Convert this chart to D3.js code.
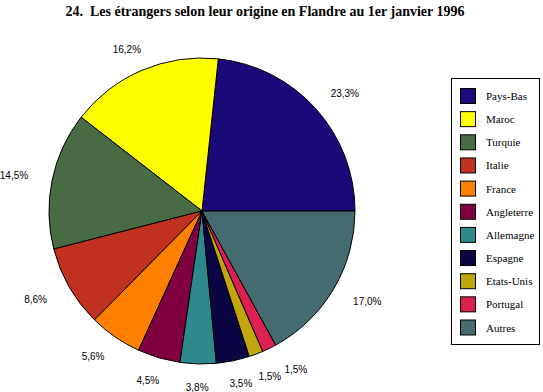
<!DOCTYPE html>
<html><head><meta charset="utf-8">
<script src="https://cdn.jsdelivr.net/npm/d3@7"></script>
<style>body{margin:0;background:#fff;}svg{display:block;}</style>
</head><body>
<script>
const title = "24.  Les étrangers selon leur origine en Flandre au 1er janvier 1996";
const categories = ["Pays-Bas","Maroc","Turquie","Italie","France","Angleterre","Allemagne","Espagne","Etats-Unis","Portugal","Autres"];
const values = [23.3,16.2,14.5,8.6,5.6,4.5,3.8,3.5,1.5,1.5,17.0];
const labels = ["23,3%","16,2%","14,5%","8,6%","5,6%","4,5%","3,8%","3,5%","1,5%","1,5%","17,0%"];
const colors = ["#1a0a7a","#ffff00","#486b44","#c0311f","#ff8000","#800040","#2e8a8a","#0b0544","#c0a80c","#dc2050","#436b70"];

const W=543,H=392;
const svg=d3.select("body").append("svg").attr("width",W).attr("height",H);
svg.append("text").attr("x",265).attr("y",16).attr("text-anchor","middle")
  .style("white-space","pre")
  .attr("font-family","'Liberation Serif','Times New Roman',serif").attr("font-weight","bold")
  .attr("font-size",14).text(title);

const cx=202, cy=211, r=153;
const pie=d3.pie().sort(null).value(d=>d).startAngle(Math.PI/2).endAngle(Math.PI/2-2*Math.PI);
const arcs=pie(values);
const arc=d3.arc().innerRadius(0).outerRadius(r);
const g=svg.append("g").attr("transform",`translate(${cx},${cy})`);
g.selectAll("path").data(arcs).enter().append("path")
  .attr("d",arc).attr("fill",(d,i)=>colors[i]).attr("stroke","#000").attr("stroke-width",1);

// label positions on an ellipse around the pie, with a simple overlap push
const pos=arcs.map(d=>{const a=(d.startAngle+d.endAngle)/2;return {x:Math.sin(a)*192,y:-Math.cos(a)*176+4,s:Math.sin(a)>=0?1:-1};});
const lw=24, lh=10;
for(let i=1;i<pos.length;i++){
  const p=pos[i], q=pos[i-1];
  const ox=lw+2-Math.abs(p.x-q.x), oy=lh-Math.abs(p.y-q.y);
  if(ox>0&&oy>0){ p.x+=p.s*ox; }
}
g.selectAll("text.lbl").data(arcs).enter().append("text").attr("class","lbl")
  .attr("x",(d,i)=>pos[i].x).attr("y",(d,i)=>pos[i].y)
  .attr("text-anchor","middle")
  .attr("font-family","'Liberation Sans',Arial,sans-serif").attr("font-size",10)
  .text((d,i)=>labels[i]);

// legend
const lx=451, ly=78, lW=88, lH=266;
svg.append("rect").attr("x",lx+0.5).attr("y",ly+0.5).attr("width",lW).attr("height",lH)
  .attr("fill","#fff").attr("stroke","#000");
const ys=d3.scaleBand().domain(categories).range([ly+6,ly+6+23.15*11]);
const items=svg.selectAll("g.leg").data(categories).enter().append("g")
  .attr("transform",d=>`translate(0,${ys(d)+4})`);
items.append("rect").attr("x",460.5).attr("y",0.5).attr("width",15).attr("height",15)
  .attr("fill",(d,i)=>colors[i]).attr("stroke","#000");
items.append("text").attr("x",486).attr("y",12)
  .attr("font-family","'Liberation Serif','Times New Roman',serif").attr("font-size",11)
  .text(d=>d);
</script>
</body></html>
